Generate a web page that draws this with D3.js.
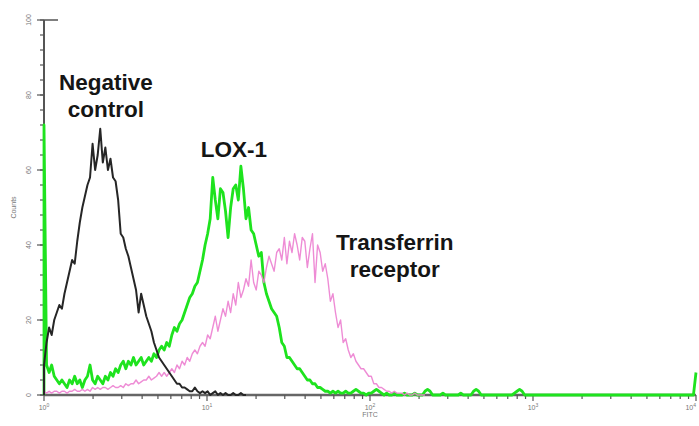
<!DOCTYPE html>
<html lang="en">
<head>
<meta charset="UTF-8">
<title>FITC histogram</title>
<script src="https://cdn.jsdelivr.net/npm/d3@7"></script>
<style>
  body { margin: 0; background: #fff; }
  path.series { fill: none; stroke-linejoin: round; }
  .tick-label { font-family: "Liberation Sans", Arial, sans-serif; font-size: 7px; fill: #777; }
  .note { font-family: "Liberation Sans", Arial, sans-serif; font-size: 22.5px; font-weight: bold; fill: #151515; }
</style>
</head>
<body>
<div id="chart"></div>
<script>
// counts per channel, 256 channels spread over 4 decades (10^0 .. 10^4)
const negativeControl = [
  8, 14, 18, 16, 20, 22, 24, 23, 27, 30,
  33, 36, 35, 41, 46, 50, 53, 56, 58, 67,
  60, 64, 71, 62, 66, 60, 63, 58, 57, 52,
  43, 42, 39, 37, 34, 31, 28, 22, 27, 24,
  21, 19, 17, 14, 12, 10, 9, 8, 7, 6,
  5, 4, 3, 3, 2, 2, 1.5, 1, 1, 2,
  1, 0.5, 1, 0.5, 1, 0, 0.5, 1, 0, 0.5,
  0, 0.5, 0, 0, 0.5, 0, 0, 0.5, 0, 0
]
const lox1 = [
  72, 8, 6, 8, 5, 4, 3, 4, 3, 2,
  4, 3, 5, 3, 4, 2, 4, 5, 8, 4,
  3, 5, 4, 3, 5, 4, 6, 5, 7, 6,
  8, 9, 7, 9, 8, 10, 8, 9, 10, 8,
  9, 10, 9, 11, 10, 12, 13, 12, 14, 13,
  16, 18, 17, 19, 20, 22, 24, 26, 27, 29,
  30, 33, 36, 40, 43, 47, 58, 52, 47, 55,
  54, 49, 42, 50, 55, 56, 52, 61, 55, 47,
  50, 44, 43, 40, 37, 38, 30, 27, 25, 23,
  22, 21, 18, 14, 13, 10, 10, 9, 8, 7,
  7, 6, 5, 4, 4, 3, 3, 2, 2, 1.5,
  1, 1, 0.5, 1, 0.5, 1, 0.5, 0.5, 1, 0.5,
  0.5, 1, 1.5, 1, 0.5, 0.5, 0, 0.5, 0.5, 1,
  1.5, 1, 0.5, 0, 0.5, 0, 0, 0.5, 0, 0,
  0, 0.5, 0, 0, 0, 0.5, 0, 0, 0, 1,
  1.5, 1, 0, 0, 0, 0, 0.5, 0, 0, 0,
  0, 0, 0, 0.5, 0, 0, 0, 0, 1, 1.5,
  1, 0, 0, 0, 0, 0, 0, 0, 0, 0,
  0, 0, 0, 0, 0.5, 1, 1.5, 1, 0, 0,
  0, 0, 0, 0, 0, 0, 0, 0, 0, 0,
  0, 0, 0, 0, 0, 0, 0, 0, 0, 0,
  0, 0, 0, 0, 0, 0, 0, 0, 0, 0,
  0, 0, 0, 0, 0, 0, 0, 0, 0, 0,
  0, 0, 0, 0, 0, 0, 0, 0, 0, 0,
  0, 0, 0, 0, 0, 0, 0, 0, 0, 0,
  0, 0, 0, 0, 0, 6
]
const transferrinReceptor = [
  1, 0.5, 1, 0.5, 1, 1, 0.5, 1, 1, 0.5,
  1, 1, 1.5, 1, 1, 1.5, 1, 1.5, 1, 2,
  1.5, 2, 1.5, 2, 2, 1.5, 2, 2.5, 2, 2,
  2.5, 2, 3, 2.5, 3, 3, 4, 3, 3.5, 4,
  4, 5, 4, 4.5, 5, 6, 5, 6, 5, 6,
  7, 6, 8, 7, 9, 8, 10, 9, 11, 12,
  11, 13, 14, 13, 16, 15, 18, 21, 17, 20,
  23, 21, 25, 22, 27, 24, 30, 26, 28, 31,
  29, 36, 30, 28, 33, 32, 30, 34, 37, 35,
  33, 38, 39, 36, 42, 35, 41, 38, 43, 40,
  36, 42, 41, 34, 39, 43, 30, 40, 38, 33,
  35, 31, 25, 27, 22, 18, 20, 14, 15, 12,
  10, 11, 9, 8, 7, 7, 6, 5, 5, 3,
  3, 2, 2, 1.5, 1, 1, 0.5, 1, 0.5, 0.5,
  0.5, 0, 0.5, 0, 0, 0.5, 0, 0, 0, 0
]
const channelCount = 256
const yTicks = [0, 20, 40, 60, 80, 100]
const xDecades = [0, 1, 2, 3, 4]
const labels = [
  { lines: ['Negative', 'control'], x: 2.4, y: 81.3 },
  { lines: ['LOX-1'], x: 14.6, y: 63.5 },
  { lines: ['Transferrin', 'receptor'], x: 142, y: 38.7 }
]

const width = 699, height = 426
const margin = { left: 44, top: 20, right: 3, bottom: 31 }

const svg = d3.select('#chart').append('svg').attr('width', width).attr('height', height)

const x = d3.scaleLog().domain([1, 1e4]).range([margin.left, width - margin.right])
const y = d3.scaleLinear().domain([0, 100]).range([height - margin.bottom, margin.top])

// channel index -> fluorescence value
const chan = i => Math.pow(10, 4 * i / (channelCount - 1))

// y axis: ticks every 4 counts, labels every 20, rotated
const yAxis = svg.append('g')
yAxis.append('line')
  .attr('x1', x(1)).attr('x2', x(1)).attr('y1', y(100)).attr('y2', y(0))
  .attr('stroke', '#555').attr('stroke-width', 2)
yAxis.append('line')
  .attr('x1', x(1)).attr('x2', x(1) + 14).attr('y1', y(100)).attr('y2', y(100))
  .attr('stroke', '#555').attr('stroke-width', 1.5)
yAxis.selectAll('.minor').data(d3.range(0, 101, 4)).join('line')
  .attr('x1', x(1) - 4).attr('x2', x(1)).attr('y1', d => y(d)).attr('y2', d => y(d))
  .attr('stroke', '#555').attr('stroke-width', 1.2)
yAxis.selectAll('.major').data(yTicks).join('line')
  .attr('x1', x(1) - 7).attr('x2', x(1)).attr('y1', d => y(d)).attr('y2', d => y(d))
  .attr('stroke', '#555').attr('stroke-width', 1.2)
yAxis.selectAll('text').data(yTicks).join('text')
  .attr('class', 'tick-label')
  .attr('transform', d => `translate(${x(1) - 13},${y(d)}) rotate(-90)`)
  .attr('text-anchor', 'middle')
  .text(d => d)
svg.append('text').attr('class', 'tick-label')
  .attr('transform', `translate(16,${y(50)}) rotate(-90)`)
  .attr('text-anchor', 'middle').text('Counts')

// x axis: log decades with minor ticks
const xAxis = svg.append('g')
xAxis.append('line')
  .attr('x1', x(1)).attr('x2', x(1e4)).attr('y1', y(0)).attr('y2', y(0))
  .attr('stroke', '#666').attr('stroke-width', 2.5)
const minorX = []
xDecades.slice(0, -1).forEach(d => { for (let k = 2; k < 10; k++) minorX.push(k * Math.pow(10, d)) })
xAxis.selectAll('.minor').data(minorX).join('line')
  .attr('x1', d => x(d)).attr('x2', d => x(d)).attr('y1', y(0)).attr('y2', y(0) + 4)
  .attr('stroke', '#555').attr('stroke-width', 1.2)
xAxis.selectAll('.major').data(xDecades).join('line')
  .attr('x1', d => x(Math.pow(10, d))).attr('x2', d => x(Math.pow(10, d)))
  .attr('y1', y(0)).attr('y2', y(0) + 6)
  .attr('stroke', '#555').attr('stroke-width', 1.2)
const xl = xAxis.selectAll('text').data(xDecades).join('text')
  .attr('class', 'tick-label')
  .attr('x', d => x(Math.pow(10, d)))
  .attr('y', y(0) + 15)
  .attr('text-anchor', (d, i) => i === xDecades.length - 1 ? 'end' : 'middle')
xl.append('tspan').text('10')
xl.append('tspan').attr('dy', -3).attr('font-size', 5).text(d => d)
svg.append('text').attr('class', 'tick-label')
  .attr('x', x(100)).attr('y', y(0) + 22).attr('text-anchor', 'middle').text('FITC')

// histogram lines
const line = d3.line().x(d => x(d[0])).y(d => y(d[1]))
const toPoints = arr => [[1, 0]].concat(arr.map((c, i) => [chan(i), c]))

svg.append('path').attr('class', 'series')
  .attr('d', line(toPoints(lox1)))
  .attr('stroke', '#1ee31e').attr('stroke-width', 2.8)
svg.append('path').attr('class', 'series')
  .attr('d', line(toPoints(transferrinReceptor)))
  .attr('stroke', '#ec7fd0').attr('stroke-width', 1.4).attr('stroke-opacity', 0.9)
svg.append('path').attr('class', 'series')
  .attr('d', line(toPoints(negativeControl)))
  .attr('stroke', '#262626').attr('stroke-width', 2)

// annotations
labels.forEach(l => {
  const t = svg.append('text').attr('class', 'note').attr('text-anchor', 'middle')
  l.lines.forEach((s, i) => {
    t.append('tspan').attr('x', x(l.x)).attr('y', y(l.y) + i * 27).text(s)
  })
})
</script>
</body>
</html>
